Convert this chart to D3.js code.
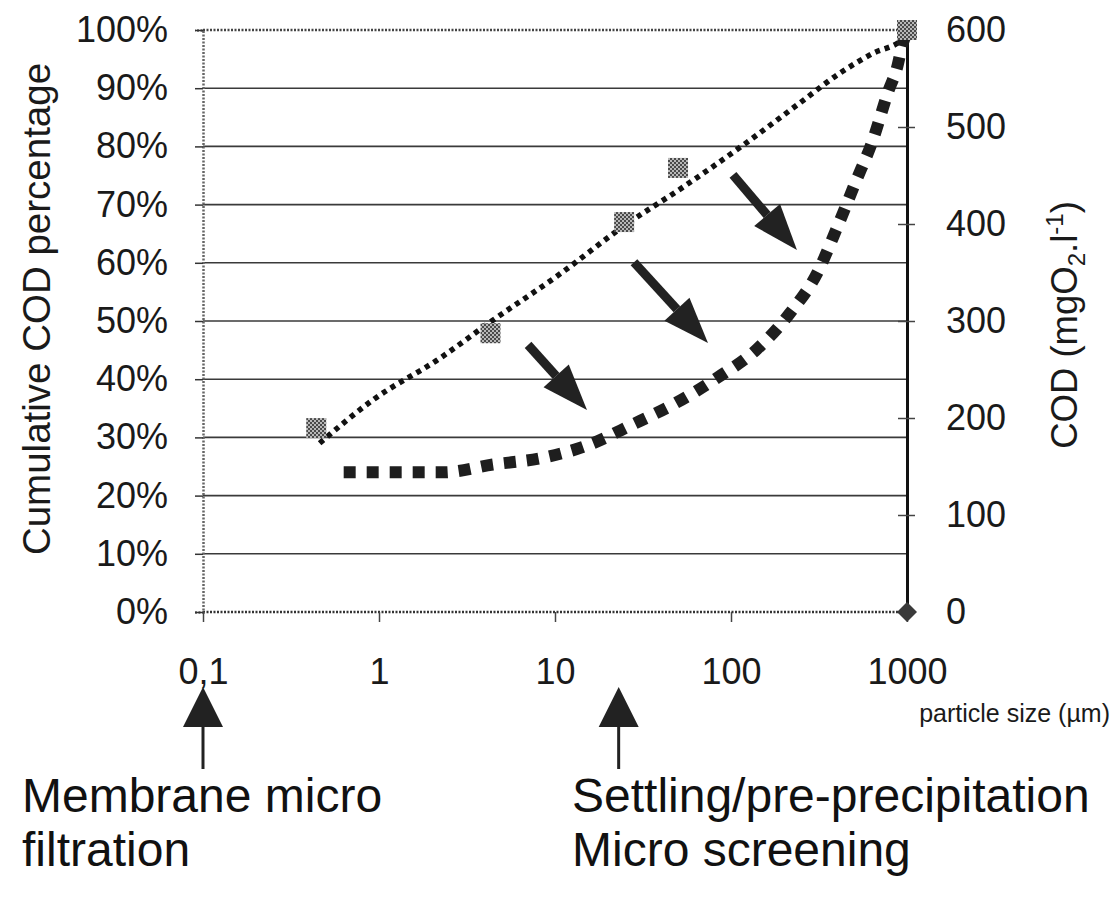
<!DOCTYPE html>
<html>
<head>
<meta charset="utf-8">
<script src="https://cdn.jsdelivr.net/npm/d3@7"></script>
<style>
  html, body { margin: 0; padding: 0; background: #fff; }
  svg { display: block; font-family: "Liberation Sans", Arial, Helvetica, sans-serif; }
</style>
</head>
<body>
<svg id="chart" width="1120" height="906"></svg>
<script>
// ---------- data ----------
const xTicks = [0.1, 1, 10, 100, 1000];
const xTickLabels = ["0,1", "1", "10", "100", "1000"];
const pctTicks = [0, 0.1, 0.2, 0.3, 0.4, 0.5, 0.6, 0.7, 0.8, 0.9, 1.0];
const codTicks = [0, 100, 200, 300, 400, 500, 600];

// measured cumulative COD percentage (checkered markers)
const markerSize = [0.44, 4.3, 24.7, 50, 1000];
const markerPct = [0.316, 0.479, 0.670, 0.763, 1.0];

// trend line of cumulative percentage (thin dotted)
const trendSize = [0.46, 0.92, 2.22, 4.28, 10.7, 24.3, 53.4, 117, 247, 416, 641, 937, 1000];
const trendPct = [0.290, 0.364, 0.436, 0.498, 0.581, 0.662, 0.730, 0.802, 0.875, 0.926, 0.960, 0.983, 0.991];

// COD concentration curve (thick dashed, right axis)
const codSize = [0.63, 2.31, 4.44, 8.55, 15.4, 27.4, 48.1, 84.4, 140.6, 216, 308, 400, 507, 641, 780, 877, 948, 1000];
const codValue = [144, 144, 152, 159, 172, 193, 215, 242, 271, 308, 349, 396, 442, 487, 536, 561, 587, 597];

// zero COD point (diamond)
const zeroSize = [1000];
const zeroCod = [0];

// annotation arrows inside plot [fromSize, fromPct, toSize, toPct]
const arrowFromSize = [7.03, 28.1, 102.6];
const arrowFromPct = [0.459, 0.601, 0.751];
const arrowToSize = [15.2, 74, 237];
const arrowToPct = [0.347, 0.462, 0.622];

// process markers under the axis
const processSize = [0.1, 23];
const processLines = [["Membrane micro", "filtration"], ["Settling/pre-precipitation", "Micro screening"]];

// ---------- layout ----------
const svg = d3.select("#chart");
const L = 203, R = 907, T = 30, B = 612;
const x = d3.scaleLog().domain([0.1, 1000]).range([L, R]);
const y = d3.scaleLinear().domain([0, 1]).range([B, T]);
const y2 = d3.scaleLinear().domain([0, 600]).range([B, T]);

const defs = svg.append("defs");
const pat = defs.append("pattern").attr("id", "checker").attr("patternUnits", "userSpaceOnUse")
  .attr("width", 4).attr("height", 4);
pat.append("rect").attr("width", 4).attr("height", 4).attr("fill", "#b8b8b8");
pat.append("rect").attr("width", 2).attr("height", 2).attr("fill", "#4a4a4a");
pat.append("rect").attr("x", 2).attr("y", 2).attr("width", 2).attr("height", 2).attr("fill", "#4a4a4a");

// gridlines
svg.append("g").selectAll("line").data(pctTicks.filter(d => d > 0 && d < 1)).join("line")
  .attr("x1", L).attr("x2", R).attr("y1", d => y(d)).attr("y2", d => y(d))
  .attr("stroke", "#3a3a3a").attr("stroke-width", 1.6);

// top & bottom dotted border
svg.append("line").attr("x1", L).attr("x2", R).attr("y1", y(1)).attr("y2", y(1))
  .attr("stroke", "#444").attr("stroke-width", 2.5).attr("stroke-dasharray", "2 1.5");
svg.append("line").attr("x1", L).attr("x2", R).attr("y1", y(0)).attr("y2", y(0))
  .attr("stroke", "#333").attr("stroke-width", 2.5).attr("stroke-dasharray", "2 1.5");

// left axis (dotted)
const gl = svg.append("g").attr("transform", `translate(${L},0)`)
  .call(d3.axisLeft(y).tickValues(pctTicks).tickFormat(d => Math.round(d * 100) + "%").tickSize(8).tickPadding(27));
gl.select(".domain").attr("stroke", "#666").attr("stroke-width", 2.5).attr("stroke-dasharray", "2 1.5");
gl.selectAll(".tick line").attr("stroke", "#333").attr("stroke-width", 1.5);
gl.selectAll(".tick text").attr("font-size", 36).attr("fill", "#1a1a1a").attr("font-family", "Liberation Sans, Arial, sans-serif");

// bottom axis
const gb = svg.append("g").attr("transform", `translate(0,${B})`)
  .call(d3.axisBottom(x).tickValues(xTicks).tickFormat((d, i) => xTickLabels[i]).tickSize(10).tickPadding(36));
gb.select(".domain").remove();
gb.selectAll(".tick line").attr("stroke", "#444").attr("stroke-width", 1.5);
gb.selectAll(".tick text").attr("font-size", 36).attr("fill", "#1a1a1a").attr("font-family", "Liberation Sans, Arial, sans-serif");

// right axis
const gr = svg.append("g").attr("transform", `translate(${R},0)`)
  .call(d3.axisRight(y2).tickValues(codTicks).tickSize(8).tickPadding(31));
gr.select(".domain").attr("stroke", "#111").attr("stroke-width", 3);
gr.selectAll(".tick line").attr("x1", -9).attr("x2", 8).attr("stroke", "#444").attr("stroke-width", 1.5);
gr.selectAll(".tick text").attr("font-size", 36).attr("fill", "#1a1a1a").attr("font-family", "Liberation Sans, Arial, sans-serif");

// axis titles
svg.append("text").attr("transform", `translate(50,${(T + B) / 2 - 12}) rotate(-90)`)
  .attr("text-anchor", "middle").attr("font-size", 38.5).attr("fill", "#1a1a1a")
  .text("Cumulative COD percentage");
const rt = svg.append("text").attr("transform", `translate(1077,${(T + B) / 2 + 4}) rotate(-90)`)
  .attr("text-anchor", "middle").attr("font-size", 36.5).attr("fill", "#1a1a1a");
rt.append("tspan").text("COD (mgO");
rt.append("tspan").attr("font-size", 24).attr("dy", 8).text("2");
rt.append("tspan").attr("dy", -8).text(".l");
rt.append("tspan").attr("font-size", 24).attr("dy", -14).text("-1");
rt.append("tspan").attr("dy", 14).text(")");

svg.append("text").attr("x", 1110).attr("y", 722).attr("text-anchor", "end")
  .attr("font-size", 25).attr("fill", "#1a1a1a").text("particle size (µm)");

// thin dotted trend line
const trendData = trendSize.map((s, i) => [x(s), y(trendPct[i])]);
svg.append("path").datum(trendData)
  .attr("d", d3.line().curve(d3.curveMonotoneX))
  .attr("fill", "none").attr("stroke", "#111").attr("stroke-width", 5.5).attr("stroke-dasharray", "5 5");

// thick dashed COD curve
const codData = codSize.map((s, i) => [x(s), y2(codValue[i])]);
svg.append("path").datum(codData)
  .attr("d", d3.line().curve(d3.curveMonotoneX))
  .attr("fill", "none").attr("stroke", "#1e1e1e").attr("stroke-width", 12).attr("stroke-dasharray", "12 11");

// checkered markers
svg.append("g").selectAll("rect").data(markerSize).join("rect")
  .attr("x", d => x(d) - 10).attr("y", (d, i) => y(markerPct[i]) - 10)
  .attr("width", 20).attr("height", 20).attr("fill", "url(#checker)");

// diamond at zero
svg.append("g").selectAll("path").data(zeroSize).join("path")
  .attr("transform", (d, i) => `translate(${x(d)},${y2(zeroCod[i])}) rotate(45)`)
  .attr("d", d3.symbol().type(d3.symbolSquare).size(200))
  .attr("fill", "#3a3a3a");

// annotation arrows inside plot
const ag = svg.append("g");
arrowFromSize.forEach((s, i) => {
  const x1 = x(s), y1 = y(arrowFromPct[i]);
  const x2 = x(arrowToSize[i]), y2p = y(arrowToPct[i]);
  const ang = Math.atan2(y2p - y1, x2 - x1);
  const headLen = 46, headW = 17;
  const bx = x2 - headLen * Math.cos(ang), by = y2p - headLen * Math.sin(ang);
  ag.append("line").attr("x1", x1).attr("y1", y1).attr("x2", bx).attr("y2", by)
    .attr("stroke", "#222").attr("stroke-width", 9);
  const px = -Math.sin(ang), py = Math.cos(ang);
  ag.append("polygon")
    .attr("points", [[x2, y2p], [bx + px * headW, by + py * headW], [bx - px * headW, by - py * headW]].map(p => p.join(",")).join(" "))
    .attr("fill", "#222");
});

// process arrows and labels under the axis
const pg = svg.append("g");
processSize.forEach((s, i) => {
  const cx = x(s);
  pg.append("polygon").attr("points", `${cx},687 ${cx - 20},727 ${cx + 20},727`).attr("fill", "#222");
  pg.append("line").attr("x1", cx).attr("x2", cx).attr("y1", 727).attr("y2", 769)
    .attr("stroke", "#222").attr("stroke-width", 3);
});
const labelX = [22, 572];
processLines.forEach((lines, i) => {
  lines.forEach((t, j) => {
    pg.append("text").attr("x", labelX[i]).attr("y", 812 + j * 54)
      .attr("font-size", 48).attr("fill", "#111").text(t);
  });
});
</script>
</body>
</html>
